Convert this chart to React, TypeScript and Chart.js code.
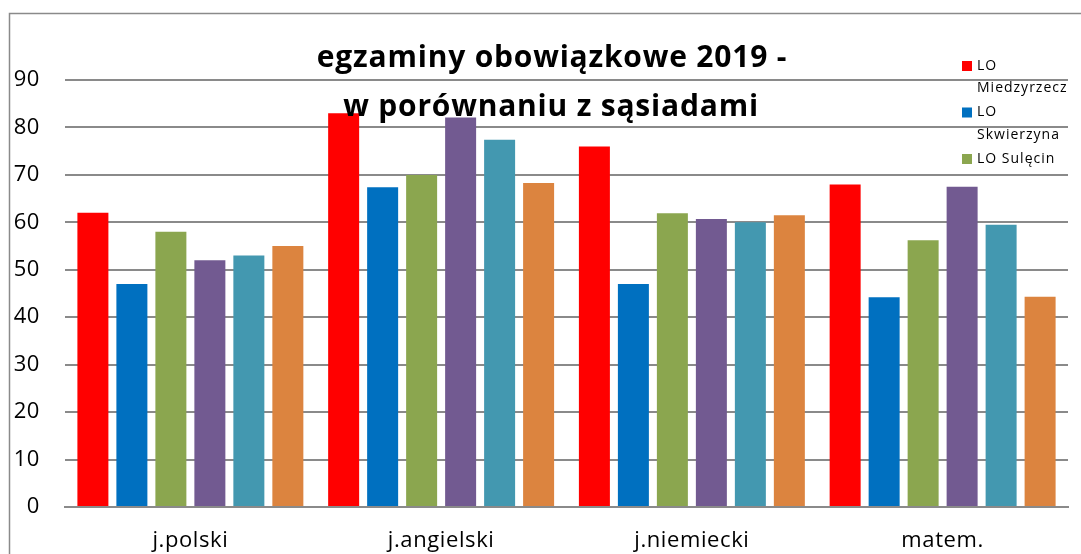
import React, { useEffect, useRef } from "react";
import { Chart, registerables } from "chart.js";

Chart.register(...registerables);

const categories = ["j.polski", "j.angielski", "j.niemiecki", "matem."];
const seriesNames = ["LO Miedzyrzecz", "LO Skwierzyna", "LO Sulęcin", "Seria 4", "Seria 5", "Seria 6"];
const legendLines = [["LO", "Miedzyrzecz"], ["LO", "Skwierzyna"], ["LO Sulęcin"]];
const loMiedzyrzecz = [62, 83, 76, 68];
const loSkwierzyna = [47, 67.4, 47, 44.2];
const loSulecin = [58, 70, 61.9, 56.2];
const seria4 = [52, 82.1, 60.7, 67.5];
const seria5 = [53, 77.4, 60, 59.5];
const seria6 = [55, 68.3, 61.5, 44.3];
const yTicks = [0, 10, 20, 30, 40, 50, 60, 70, 80, 90];
const titleLines = ["egzaminy obowiązkowe 2019 -", "w porównaniu z sąsiadami"];
const colors = ["#FF0000", "#0070C0", "#8BA64F", "#725A91", "#4398B0", "#DC843F"];

const FONT = "'Open Sans', Lato, sans-serif";

export default function App() {
  const ref = useRef<HTMLCanvasElement>(null);
  useEffect(() => {
    if (!ref.current) return;
    const values = [loMiedzyrzecz, loSkwierzyna, loSulecin, seria4, seria5, seria6];
    const overlay = {
      id: "overlay",
      beforeInit(chart: any) {
        chart.ctx.letterSpacing = "0.6px";
      },
      beforeDraw(chart: any) {
        const ctx = chart.ctx;
        ctx.letterSpacing = "0.6px";
        ctx.save();
        ctx.fillStyle = "#fff";
        ctx.fillRect(0, 0, chart.width, chart.height);
        ctx.strokeStyle = "#8a8a8a";
        ctx.lineWidth = 1.5;
        ctx.strokeRect(9.5, 13.5, chart.width + 50, chart.height + 50);
        ctx.restore();
      },
      afterDraw(chart: any) {
        const ctx = chart.ctx;
        ctx.save();
        ctx.fillStyle = "#000";
        ctx.textAlign = "center";
        ctx.textBaseline = "alphabetic";
        ctx.letterSpacing = "0.8px";
        ctx.font = `bold 30px ${FONT}`;
        ctx.fillText(titleLines[0], 552, 67);
        ctx.fillText(titleLines[1], 551, 116);
        // legend
        ctx.font = `14px ${FONT}`;
        ctx.letterSpacing = "1px";
        ctx.textAlign = "left";
        ctx.textBaseline = "middle";
        let y = 66;
        legendLines.forEach((lines, i) => {
          ctx.fillStyle = colors[i];
          ctx.fillRect(962, y - 5, 10, 10);
          ctx.fillStyle = "#000";
          lines.forEach((t) => {
            ctx.fillText(t, 977, y);
            y += 22.5;
          });
          y += 1.5;
        });
        ctx.restore();
      },
    };
    const chart = new Chart(ref.current, {
      type: "bar",
      data: {
        labels: categories,
        datasets: values.map((v, i) => ({
          label: seriesNames[i],
          data: v,
          backgroundColor: colors[i],
          borderWidth: 0,
          barPercentage: 0.795,
          categoryPercentage: 0.933,
        })),
      },
      options: {
        responsive: false,
        animation: false,
        layout: { padding: { left: 10, right: 13, top: 80, bottom: 0 } },
        plugins: {
          legend: { display: false },
          title: { display: false },
          tooltip: { enabled: false },
        },
        scales: {
          x: {
            grid: { display: false, drawTicks: false },
            border: { display: true, color: "#8a8a8a", width: 2 },
            ticks: { color: "#000", font: { family: FONT, size: 22 }, padding: 21 },
            afterFit(scale: any) { scale.height = 47; },
          },
          y: {
            min: 0,
            max: 90,
            afterBuildTicks(scale: any) { scale.ticks = yTicks.map((v) => ({ value: v })); },
            grid: { color: "#8a8a8a", lineWidth: 2, drawTicks: false },
            border: { display: false },
            ticks: { color: "#000", font: { family: FONT, size: 22 }, padding: 25 },
            afterFit(scale: any) { scale.width = 55; },
          },
        },
      },
      plugins: [overlay],
    });
    return () => chart.destroy();
  }, []);
  return (
    <div style={{ position: "fixed", left: 0, top: 0, width: 1081, height: 554 }}>
      <canvas ref={ref} width={1081} height={554} style={{ width: 1081, height: 554 }} />
    </div>
  );
}
